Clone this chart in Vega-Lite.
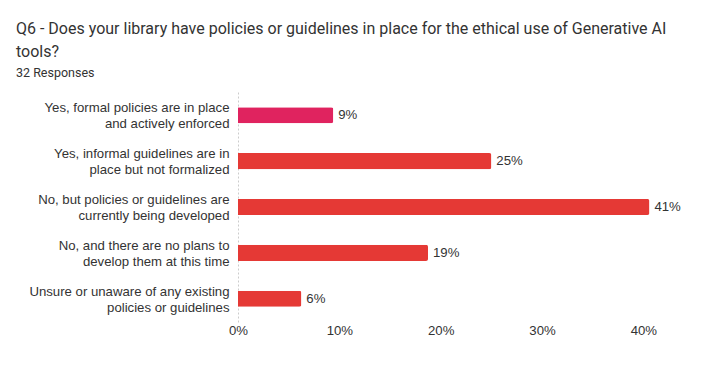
{
  "$schema": "https://vega.github.io/schema/vega-lite/v6.json",
  "autosize": "none",
  "width": 456,
  "height": 230,
  "padding": {"left": 238, "top": 92, "right": 26, "bottom": 46},
  "background": "white",
  "view": {"stroke": null},
  "title": {
    "text": ["Q6 - Does your library have policies or guidelines in place for the ethical use of Generative AI", "tools?"],
    "subtitle": "32 Responses",
    "anchor": "start",
    "frame": "group",
    "dx": -222,
    "offset": 13,
    "font": "Roboto",
    "fontSize": 16,
    "fontWeight": "normal",
    "color": "#333333",
    "lineHeight": 23,
    "subtitleFont": "Roboto",
    "subtitleFontSize": 12.5,
    "subtitleColor": "#333333",
    "subtitlePadding": 7
  },
  "data": {
    "values": [
      {"label": "Yes, formal policies are in place|and actively enforced", "value": 0.094, "first": "yes"},
      {"label": "Yes, informal guidelines are in|place but not formalized", "value": 0.25, "first": "no"},
      {"label": "No, but policies or guidelines are|currently being developed", "value": 0.406, "first": "no"},
      {"label": "No, and there are no plans to|develop them at this time", "value": 0.1875, "first": "no"},
      {"label": "Unsure or unaware of any existing|policies or guidelines", "value": 0.0625, "first": "no"}
    ]
  },
  "encoding": {
    "y": {
      "field": "label",
      "type": "nominal",
      "sort": null,
      "title": null,
      "scale": {"paddingInner": 0.65, "paddingOuter": 0.33},
      "axis": {
        "labelExpr": "split(datum.label, '|')",
        "labelFont": "Liberation Sans",
        "labelFontSize": 13.2,
        "labelColor": "#333333",
        "labelLineHeight": 16,
        "labelPadding": 9,
        "labelOffset": -7,
        "ticks": false,
        "domain": true,
        "domainColor": "#cccccc",
        "domainDash": [2, 2],
        "labelLimit": 300
      }
    },
    "x": {
      "field": "value",
      "type": "quantitative",
      "title": null,
      "scale": {"domain": [0, 0.45]},
      "axis": {
        "values": [0, 0.1, 0.2, 0.3, 0.4],
        "format": ".0%",
        "grid": false,
        "domain": false,
        "ticks": false,
        "labelFlush": false,
        "labelFont": "Liberation Sans",
        "labelFontSize": 13.2,
        "labelColor": "#333333",
        "labelPadding": 2
      }
    }
  },
  "layer": [
    {
      "mark": {"type": "bar", "cornerRadiusEnd": 2},
      "encoding": {
        "color": {
          "field": "first",
          "type": "nominal",
          "scale": {"domain": ["yes", "no"], "range": ["#E0235F", "#E53935"]},
          "legend": null
        }
      }
    },
    {
      "mark": {"type": "text", "align": "left", "dx": 5, "font": "Liberation Sans", "fontSize": 13.2, "color": "#333333"},
      "encoding": {
        "text": {"field": "value", "type": "quantitative", "format": ".0%"}
      }
    }
  ]
}
